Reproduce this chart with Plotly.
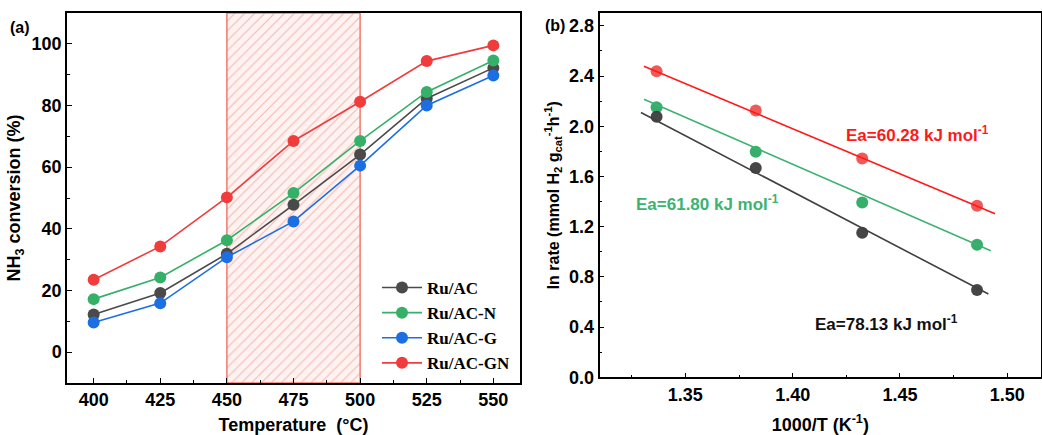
import plotly.graph_objects as go

# ---- Panel (a) data ----
temps = [400, 425, 450, 475, 500, 525, 550]
series_names = ["Ru/AC", "Ru/AC-N", "Ru/AC-G", "Ru/AC-GN"]
conv_ac = [12.2, 19.2, 31.9, 47.8, 64.1, 82.3, 92.2]
conv_acn = [17.2, 24.2, 36.3, 51.6, 68.5, 84.4, 94.6]
conv_acg = [9.6, 15.9, 30.8, 42.4, 60.5, 80.0, 89.7]
conv_acgn = [23.5, 34.3, 50.2, 68.5, 81.2, 94.4, 99.5]
region = [450, 500]

# ---- Panel (b) data ----
inv_t = [1.3366, 1.3828, 1.4324, 1.4859]
lnr_acgn = [2.439, 2.126, 1.744, 1.367]
lnr_acn = [2.152, 1.797, 1.393, 1.056]
lnr_ac = [2.075, 1.667, 1.152, 0.695]
fit_acgn_x = [1.3307, 1.4943]
fit_acgn_y = [2.479, 1.303]
fit_acn_x = [1.3307, 1.4923]
fit_acn_y = [2.216, 1.008]
fit_ac_x = [1.3293, 1.4912]
fit_ac_y = [2.110, 0.663]
ea_labels = ["Ea=60.28 kJ mol<sup>-1</sup>", "Ea=61.80 kJ mol<sup>-1</sup>", "Ea=78.13 kJ mol<sup>-1</sup>"]

C_GRAY = "#4a4a4a"
C_GREEN = "#35b068"
C_BLUE = "#1c6fe3"
C_RED = "#f03c3c"

W, H = 1042, 435
YR_A = [-10, 110]
YR_B = [0, 2.9]
SANS = "Arial, Liberation Sans"

fig = go.Figure()

# hatched region
fig.add_trace(go.Scatter(
    x=[region[0], region[1], region[1], region[0], region[0]],
    y=[YR_A[0], YR_A[0], YR_A[1], YR_A[1], YR_A[0]],
    mode="lines", fill="toself",
    line=dict(color="#f07a70", width=1.5),
    fillcolor="rgba(253,240,238,1)",
    fillpattern=dict(shape="/", fgcolor="#ef7d73", bgcolor="rgba(254,243,241,1)",
                     size=7, solidity=0.17),
    showlegend=False, hoverinfo="skip", xaxis="x", yaxis="y"))

for name, vals, col in zip(series_names, [conv_ac, conv_acn, conv_acg, conv_acgn],
                           [C_GRAY, C_GREEN, C_BLUE, C_RED]):
    fig.add_trace(go.Scatter(x=temps, y=vals, mode="lines+markers", name=name,
                             line=dict(color=col, width=1.6),
                             marker=dict(color=col, size=12),
                             xaxis="x", yaxis="y"))

# panel b scatter
for vals, col in zip([lnr_acgn, lnr_acn, lnr_ac], ["rgba(240,70,70,0.9)", "rgba(45,170,100,0.95)", "rgba(60,60,60,0.95)"]):
    fig.add_trace(go.Scatter(x=inv_t, y=vals, mode="markers",
                             marker=dict(color=col, size=12),
                             showlegend=False, xaxis="x2", yaxis="y2"))
for fx, fy, col in zip([fit_acgn_x, fit_acn_x, fit_ac_x], [fit_acgn_y, fit_acn_y, fit_ac_y],
                       ["#ff1a1a", "#3cb371", "#404040"]):
    fig.add_trace(go.Scatter(x=fx, y=fy, mode="lines", line=dict(color=col, width=1.6),
                             showlegend=False, xaxis="x2", yaxis="y2"))

tickf = dict(family=SANS, size=18, color="black", weight="bold")
titlef = dict(family=SANS, size=18, color="black", weight="bold")
axcommon = dict(showline=True, linecolor="black", linewidth=1.5, mirror=True,
                ticks="inside", ticklen=5, tickwidth=1.3, tickcolor="black",
                showgrid=False, zeroline=False, tickfont=tickf, automargin=False)

fig.update_layout(
    width=W, height=H,
    margin=dict(l=0, r=0, t=0, b=0, autoexpand=False),
    paper_bgcolor="white", plot_bgcolor="white",
    xaxis=dict(domain=[67 / W, 520 / W], range=[390, 560], tickvals=temps,
               minor=dict(ticks="inside", ticklen=3, tickcolor="black", dtick=12.5, tick0=400),
               title=dict(text="Temperature  (°C)", font=titlef, standoff=12),
               anchor="y", **axcommon),
    yaxis=dict(domain=[1 - 383 / H, 1 - 13 / H], range=YR_A, dtick=20, tick0=0,
               minor=dict(ticks="inside", ticklen=3, tickcolor="black", dtick=10, tick0=0),
               title=dict(text="NH<sub>3</sub> conversion (%)", font=titlef, standoff=6),
               anchor="x", **axcommon),
    xaxis2=dict(domain=[599.5 / W, 1041 / W], range=[1.31, 1.5157], dtick=0.05, tick0=1.35,
                tickformat=".2f",
                minor=dict(ticks="inside", ticklen=3, tickcolor="black", dtick=0.025, tick0=1.325),
                title=dict(text="1000/T (K<sup>-1</sup>)", font=titlef, standoff=18),
                anchor="y2", **axcommon),
    yaxis2=dict(domain=[1 - 377.3 / H, 1 - 13.3 / H], range=YR_B, dtick=0.4, tick0=0,
                tickformat=".1f",
                minor=dict(ticks="inside", ticklen=3, tickcolor="black", dtick=0.2, tick0=0),
                title=dict(text="ln rate (mmol H<sub>2</sub> g<sub>cat</sub><sup>-1</sup>h<sup>-1</sup>)",
                           font=dict(family=SANS, size=16, color="black", weight="bold"),
                           standoff=6),
                anchor="x2", **axcommon),
    legend=dict(x=515 / W, y=1 - 381 / H, xanchor="right", yanchor="bottom",
                bgcolor="rgba(0,0,0,0)", tracegroupgap=0, itemwidth=40,
                font=dict(family="Times New Roman, Liberation Serif", size=17, color="black", weight="bold")),
    showlegend=True,
)

ann_font = lambda c: dict(family=SANS, size=17, color=c, weight="bold")
fig.add_annotation(x=1.424, y=1.94, xref="x2", yref="y2", text=ea_labels[0], showarrow=False,
                   xanchor="left", yanchor="middle", font=ann_font("#ff1a1a"))
fig.add_annotation(x=1.326, y=1.385, xref="x2", yref="y2", text=ea_labels[1], showarrow=False,
                   xanchor="left", yanchor="middle", font=ann_font("#3cb371"))
fig.add_annotation(x=1.4097, y=0.435, xref="x2", yref="y2", text=ea_labels[2], showarrow=False,
                   xanchor="left", yanchor="middle", font=ann_font("#111111"))

fig.add_annotation(x=8 / W, y=1 - 27 / H, xref="paper", yref="paper", text="(a)", showarrow=False,
                   xanchor="left", yanchor="middle", font=dict(family=SANS, size=16, color="black", weight="bold"))
fig.add_annotation(x=543 / W, y=1 - 26 / H, xref="paper", yref="paper", text="(b)", showarrow=False,
                   xanchor="left", yanchor="middle", font=dict(family=SANS, size=16, color="black", weight="bold"))

fig.write_html("out.html", config={"displayModeBar": False},
               post_script="document.body.style.margin='0';document.documentElement.style.overflow='hidden';")
